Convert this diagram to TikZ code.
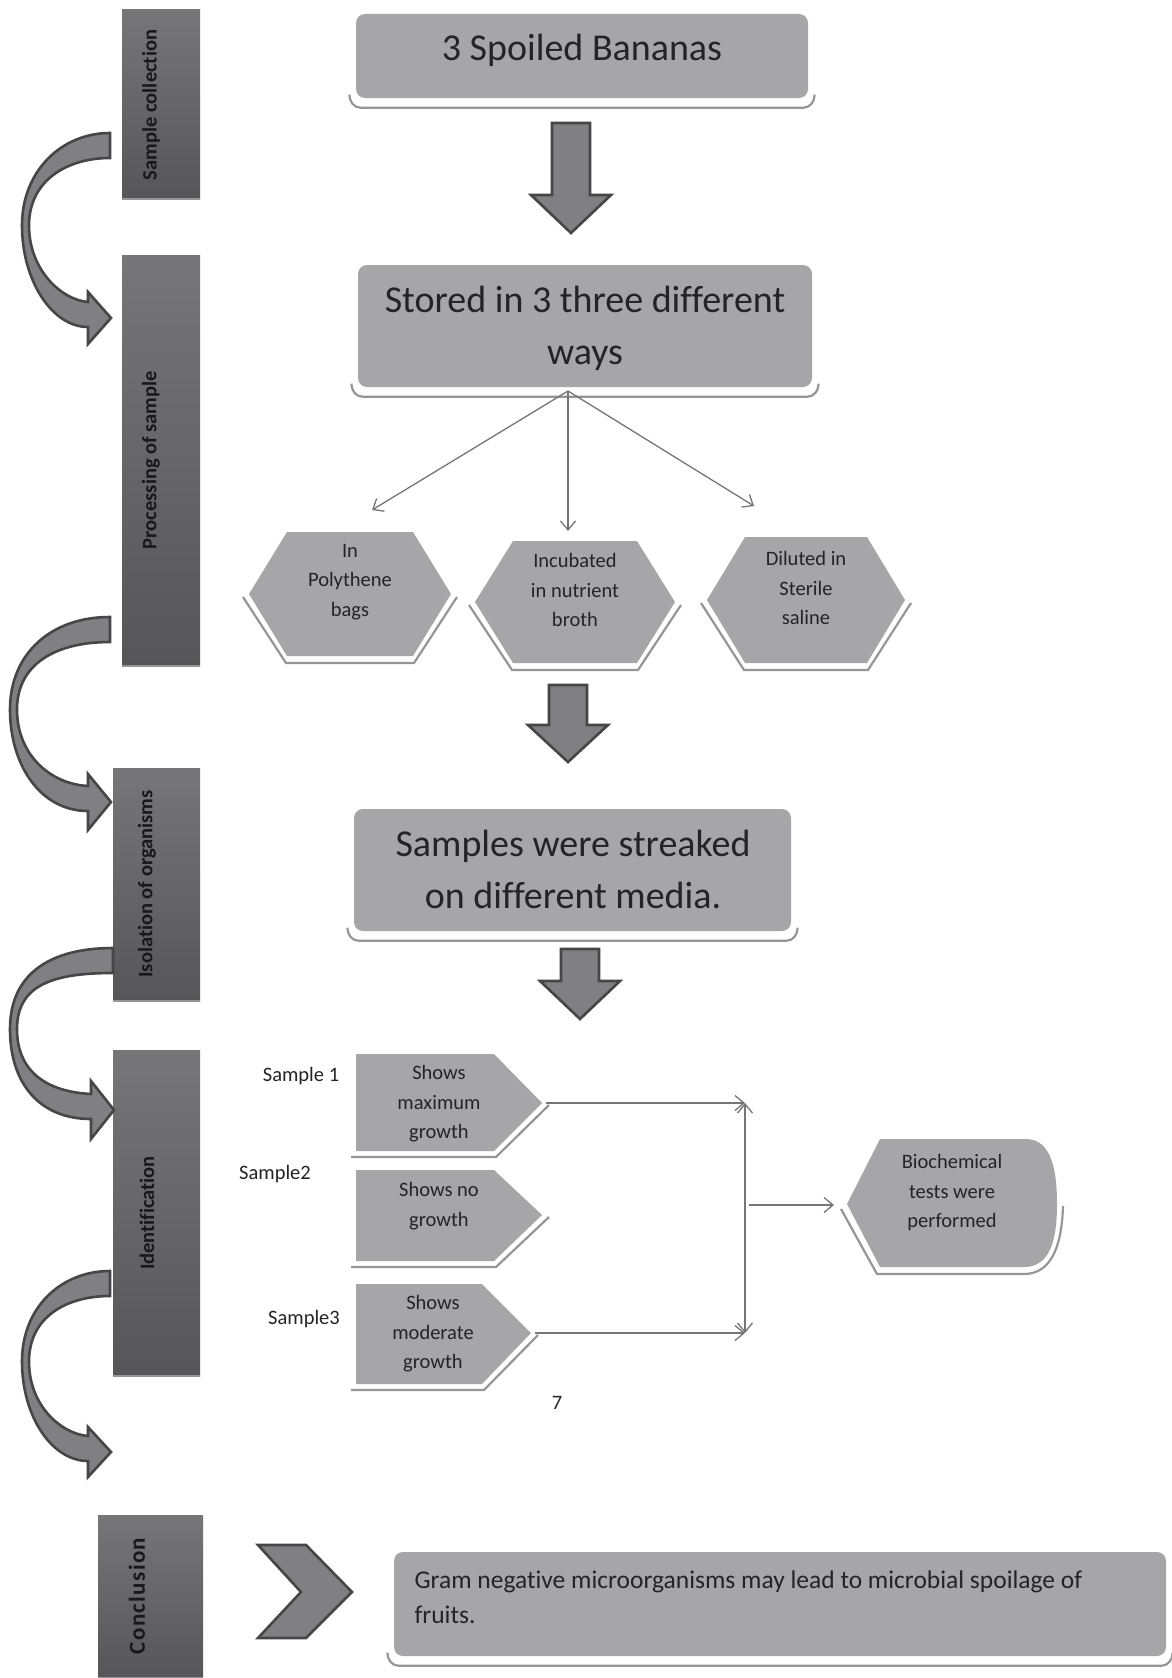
\documentclass[tikz,border=0pt]{standalone}
\usepackage{fontspec}
\setmainfont{Carlito}[Ligatures=NoCommon]
\usetikzlibrary{arrows.meta}

\definecolor{boxgray}{RGB}{166,166,168}
\definecolor{barhi}{RGB}{118,118,120}
\definecolor{barlo}{RGB}{86,86,88}
\definecolor{arrfill}{RGB}{128,128,130}
\definecolor{arrline}{RGB}{70,70,72}
\definecolor{rimgray}{RGB}{150,150,152}
\definecolor{ink}{RGB}{36,36,36}
\definecolor{barink}{RGB}{24,24,24}
\definecolor{wiregray}{RGB}{118,118,118}

\begin{document}
\begin{tikzpicture}[x=1pt, y=-1pt, >={Straight Barb[length=9pt,width=15pt]}, line width=1.3pt,
  stagebar/.style={top color=barhi, bottom color=barlo, draw=none},
  bartxt/.style={rotate=90, inner sep=0pt, text=barink, font=\bfseries\fontsize{20.5}{24}\selectfont},
  panelbox/.style={fill=boxgray, rounded corners=9pt, inner sep=0pt},
  bigtxt/.style={inner sep=0pt, align=center, text=ink, font=\fontsize{38}{52}\selectfont},
  smalltxt/.style={inner sep=0pt, align=center, text=ink, font=\fontsize{20.5}{29.5}\selectfont},
  rim/.style={draw=rimgray, line width=2.2pt},
  blockarrow/.style={fill=arrfill, draw=arrline, line width=2.6pt, line join=miter},
  wire/.style={draw=wiregray, line width=1.3pt}]
  \path[use as bounding box, fill=white] (0,0) rectangle (1172,1678);

  % stage bars on the left
  \foreach \xa/\ya/\xb/\yb in {122/10/200/199, 122/255/200/666, 113/768/200/1001, 113/1050/200/1376, 98/1515/203/1678} {
    \shade[stagebar] (\xa,\ya) rectangle (\xb,\yb);
    \draw[rimgray, line width=1.5pt] (\xa,\yb) -- (\xb,\yb);
  }
  \node[bartxt] (colL) at (151,105) {Sample collection};
  \node[bartxt] (procL) at (151,460) {Processing of sample};
  \node[bartxt] (isoL) at (147,884) {Isolation of organisms};
  \node[bartxt] (idL) at (147,1213) {Identification};
  \node[bartxt, font=\bfseries\fontsize{23}{26}\selectfont\addfontfeature{LetterSpace=6}] (concL) at (137,1596) {Conclusion};

  % curved arrows between the stages
  \foreach \tx/\ty/\lx/\py/\hh in {110/133/22/318/26, 110/617/10/802/28, 113/948/10/1110/29, 110/1271/22/1452/25} {
    \pgfmathsetmacro\m{(\ty+\py)/2}
    \draw[blockarrow] (\tx,\ty)
      .. controls (\lx+40,\ty) and (\lx,\m-55) .. (\lx,\m)
      .. controls (\lx,\m+55) and (\lx+30,\py+9) .. (\tx-22,\py+9)
      -- (\tx-22,\py+\hh) -- (\tx+1,\py) -- (\tx-22,\py-\hh) -- (\tx-22,\py-16)
      .. controls (\lx+40,\py-18) and (\lx+7,\m+45) .. (\lx+7,\m)
      .. controls (\lx+7,\m-45) and (\lx+45,\ty+25) .. (\tx,\ty+25) -- cycle;
  }

  % main boxes
  \node[panelbox, minimum width=452pt, minimum height=84pt] (ban) at (582,56) {};
  \node[bigtxt] (banT) at (582,50) {3 Spoiled Bananas};
  \node[panelbox, minimum width=454pt, minimum height=122pt] (store) at (585,326) {};
  \node[bigtxt] (storeT) at (585,328) {Stored in 3 three different\\ways};
  \node[panelbox, minimum width=437pt, minimum height=122pt] (streak) at (572.5,870) {};
  \node[bigtxt] (streakT) at (573,869) {Samples were streaked\\on different media.};
  \node[panelbox, minimum width=772pt, minimum height=104pt] (concl) at (780,1604) {};
  \node[smalltxt, font=\fontsize{25.5}{35}\selectfont, align=left, anchor=west] (conclT) at (414,1597)
    {Gram negative microorganisms may lead to microbial spoilage of\\fruits.};
  \foreach \b in {ban,store,streak,concl}
    \draw[rim] ([xshift=-6,yshift=4]\b.south west) to[out=-90,in=180] ([xshift=5,yshift=-9]\b.south west)
      -- ([xshift=-5,yshift=-9]\b.south east) to[out=0,in=-90] ([xshift=6,yshift=4]\b.south east);

  % block arrows down
  \foreach \cx/\ty/\by/\py in {571/123/195/233, 568/685/725/762, 580/949/981/1019}
    \draw[blockarrow] (\cx-19,\ty) -- (\cx+19,\ty) -- (\cx+19,\by) -- (\cx+40,\by) -- (\cx,\py)
      -- (\cx-40,\by) -- (\cx-19,\by) -- cycle;

  % three storage ways
  \coordinate (fork) at (568,391);
  \coordinate (toA) at (372,510);
  \coordinate (toB) at (568,531);
  \coordinate (toC) at (754,506);
  \foreach \t in {toA,toB,toC}
    \draw[wire,->] (fork) -- (\t);
  \foreach \n/\cx/\cy/\hw/\hh/\txt in {hexA/350/594/101/62/{In\\Polythene\\bags},
      hexB/575/602/100/61/{Incubated\\in nutrient\\broth}, hexC/806/600/99/63/{Diluted in\\Sterile\\saline}} {
    \fill[boxgray] (\cx-\hw,\cy) -- (\cx-\hw+38,\cy-\hh) -- (\cx+\hw-38,\cy-\hh) -- (\cx+\hw,\cy)
      -- (\cx+\hw-38,\cy+\hh) -- (\cx-\hw+38,\cy+\hh) -- cycle;
    \draw[rim] (\cx-\hw-6,\cy+3) -- (\cx-\hw+37,\cy+\hh+7) -- (\cx+\hw-37,\cy+\hh+7) -- (\cx+\hw+6,\cy+3);
    \node[smalltxt] (\n) at (\cx,\cy-12) {\txt};
  }

  % identification of the samples
  \foreach \n/\xi/\xt/\ya/\yt/\yb/\tx/\ty/\txt in {pA/494/542/1054/1103/1151/439/1104/{Shows\\maximum\\growth},
      pB/494/542/1170/1215/1261/439/1206/{Shows no\\growth}, pC/482/531/1284/1333/1384/433/1334/{Shows\\moderate\\growth}} {
    \fill[boxgray] (356,\ya) -- (\xi,\ya) -- (\xt,\yt) -- (\xi,\yb) -- (356,\yb) -- cycle;
    \draw[rim] (351,\yb+6) -- (\xi+2,\yb+6) -- (\xt+7,\yt+2);
    \node[smalltxt] (\n) at (\tx,\ty) {\txt};
    \coordinate (\n-tip) at (\xt+4,\yt);
  }
  \node[smalltxt] (s1) at (301,1076) {Sample 1};
  \node[smalltxt] (s2) at (275,1174) {Sample2};
  \node[smalltxt] (s3) at (304,1319) {Sample3};
  \node[smalltxt] (pg) at (557,1403) {7};

  \coordinate (jTop) at (745,1103);
  \coordinate (jBot) at (745,1333);
  \coordinate (jMid) at (749,1205);
  \coordinate (bioIn) at (834,1205);
  \draw[wire,->] (pA-tip) -- (jTop);
  \draw[wire,->] (pC-tip) -- (jBot);
  \draw[wire,<->] (jTop) -- (jBot);
  \draw[wire,->] (jMid) -- (bioIn);

  \fill[boxgray] (847,1204) -- (880,1139) -- (1026,1139) .. controls (1052,1139) and (1057,1172) .. (1057,1204)
    .. controls (1057,1238) and (1051,1267) .. (1024,1267) -- (880,1267) -- cycle;
  \draw[rim] (841,1209) -- (877,1274) -- (1024,1274) .. controls (1054,1274) and (1062,1240) .. (1063,1206);
  \node[smalltxt] (bio) at (952,1193) {Biochemical\\tests were\\performed};

  % conclusion chevron
  \draw[blockarrow] (258,1545) -- (306,1545) -- (352,1592) -- (306,1638) -- (258,1638) -- (301,1592) -- cycle;
\end{tikzpicture}
\end{document}
